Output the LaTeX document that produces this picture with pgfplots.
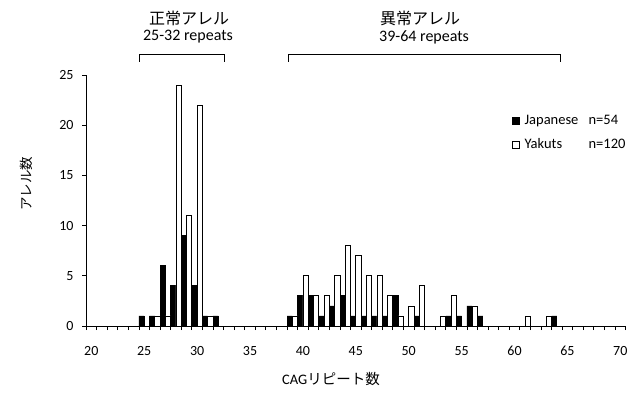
\documentclass[border=0pt]{standalone}
\usepackage{fontspec}
\setmainfont{Carlito}
\newfontfamily\jp{Noto Sans CJK JP}
\usepackage{pgfplots}
\usepackage{pgfplotstable}
\pgfplotsset{compat=1.18}
\pgfplotstableread{
x y
25 1
26 1
27 6
28 4
29 9
30 4
31 1
32 1
39 1
40 3
41 3
42 1
43 2
44 3
45 1
46 1
47 1
48 1
49 3
51 1
54 1
55 1
56 2
57 1
64 1
}\japanese
\pgfplotstableread{
x y
26 1
27 1
28 24
29 11
30 22
31 1
39 1
40 5
41 3
42 3
43 5
44 8
45 7
46 5
47 5
48 3
49 1
50 2
51 4
53 1
54 3
56 2
61 1
63 1
}\yakuts
\begin{document}
\begin{tikzpicture}
\begin{axis}[
  scale only axis, width=539.6pt, height=251pt,
  xmin=19.5, xmax=70.5, ymin=0, ymax=25,
  axis x line*=bottom, axis y line*=left,
  axis line style={line width=1pt,-},
  clip=false,
  xtick={19.5,20.5,...,70.5},
  xticklabels={20,,,,,25,,,,,30,,,,,35,,,,,40,,,,,45,,,,,50,,,,,55,,,,,60,,,,,65,,,,,70,,},
  ytick={0,5,...,25},
  tick align=outside,
  major tick length=4pt,
  tick style={black, line width=0.8pt},
  /pgf/number format/assume math mode=true,
  ticklabel style={font=\fontsize{14}{16}\selectfont},
  xticklabel style={xshift=5.29pt, yshift=-12.5pt},
  yticklabel style={xshift=-5pt},
  xlabel={CAG{\jp リピート数}},
  xlabel style={font=\fontsize{14.5}{17}\selectfont, at={(axis description cs:0.454,-0.211)}, anchor=center},
  ylabel={\jp アレル数},
  ylabel style={font=\fontsize{13.5}{15}\selectfont, at={(axis description cs:-0.111,0.566)}, anchor=center},
  legend style={at={(rel axis cs:0.7896,0.849)}, anchor=north west, draw=none, fill=none,
    font=\fontsize{14.5}{17}\selectfont, row sep=9pt, inner sep=0pt},
  legend cell align=left,
]
\addplot[ybar, bar width=0.5, bar shift=-0.25, fill=black, draw=black, line width=0.8pt,
  legend image code/.code={\draw[fill=black,draw=black,line width=0.8pt] (0pt,-3.5pt) rectangle (7pt,3.5pt);}]
  table[x=x,y=y]{\japanese};
\addlegendentry{\hspace{2.5pt}\makebox[64pt][l]{Japanese}n=54}
\addplot[ybar, bar width=0.5, bar shift=0.25, fill=white, draw=black, line width=0.8pt,
  legend image code/.code={\draw[fill=white,draw=black,line width=0.8pt] (0pt,-3.5pt) rectangle (7pt,3.5pt);}]
  table[x=x,y=y]{\yakuts};
\addlegendentry{\hspace{2.5pt}\makebox[64pt][l]{Yakuts}n=120}
\draw[line width=1pt] (axis cs:24.6,26.3) -- (axis cs:24.6,27) -- (axis cs:32.6,27) -- (axis cs:32.6,26.3);
\draw[line width=1pt] (axis cs:38.6,26.3) -- (axis cs:38.6,27) -- (axis cs:64.3,27) -- (axis cs:64.3,26.3);
\node[font=\fontsize{16}{18}\selectfont\jp] at (axis cs:29.24,30.68) {正常アレル};
\node[font=\fontsize{16}{18}\selectfont] at (axis cs:29.14,28.78) {25-32 repeats};
\node[font=\fontsize{16}{18}\selectfont\jp] at (axis cs:51.07,30.68) {異常アレル};
\node[font=\fontsize{16}{18}\selectfont] at (axis cs:51.45,28.78) {39-64 repeats};
\coordinate (bbl) at (rel axis cs:-0.1594,-0.2789);
\coordinate (btr) at (rel axis cs:1.0285,1.2988);
\end{axis}
\pgfresetboundingbox
\path (bbl) rectangle (btr);
\end{tikzpicture}
\end{document}
